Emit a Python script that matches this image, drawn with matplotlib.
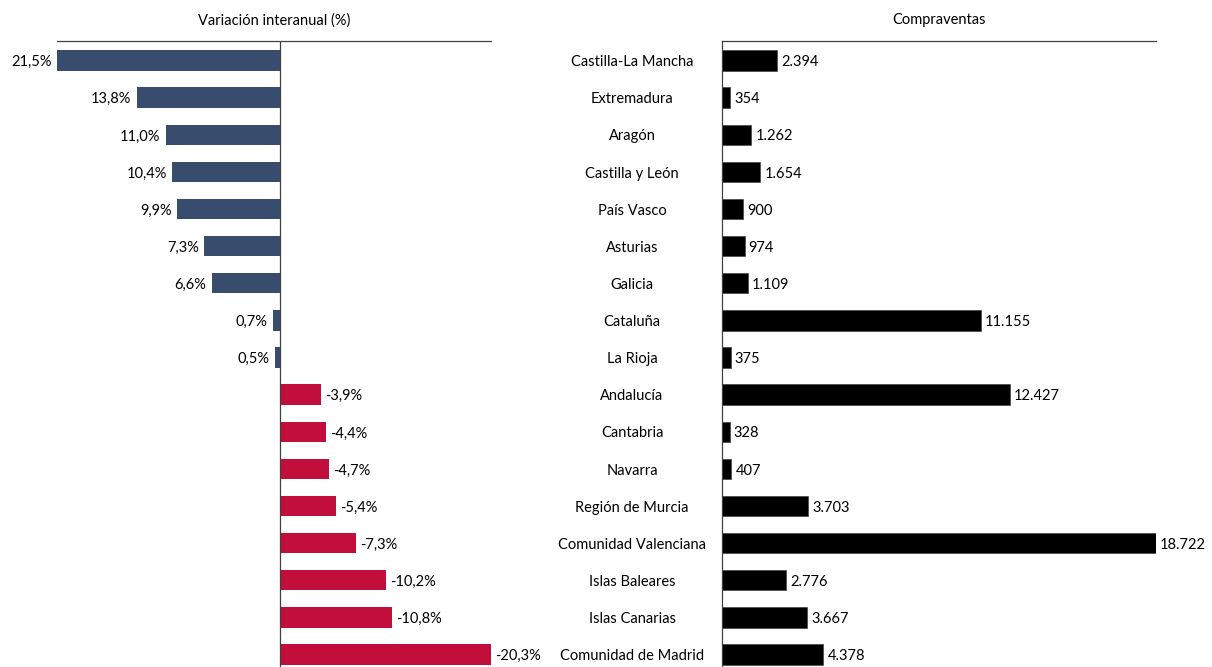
import matplotlib
matplotlib.use("Agg")
import matplotlib.pyplot as plt

regions = ["Castilla-La Mancha", "Extremadura", "Aragón", "Castilla y León", "País Vasco",
           "Asturias", "Galicia", "Cataluña", "La Rioja", "Andalucía", "Cantabria", "Navarra",
           "Región de Murcia", "Comunidad Valenciana", "Islas Baleares", "Islas Canarias",
           "Comunidad de Madrid"]
variacion = [21.5, 13.8, 11.0, 10.4, 9.9, 7.3, 6.6, 0.7, 0.5, -3.9, -4.4, -4.7, -5.4,
             -7.3, -10.2, -10.8, -20.3]
compraventas = [2394, 354, 1262, 1654, 900, 974, 1109, 11155, 375, 12427, 328, 407,
                3703, 18722, 2776, 3667, 4378]

plt.rcParams['font.family'] = ['Lato', 'DejaVu Sans']
FS = 10.5
W, H = 1212, 667
fig = plt.figure(figsize=(W / 100, H / 100), dpi=100)

BLUE = "#384d6d"
RED = "#c20e3b"
LINE = "#404040"
DY = -1.2  # small downward nudge for labels (points)

n = len(regions)
ypos = list(range(n))
step = (654 - 60) / (n - 1)
top_px = 41
bot_px = 654 + step * 0.5
y_top_val = -(60.5 - top_px) / step
y_bot_val = (n - 1) + (bot_px - 654.5) / step

def fig_axes(x0, x1):
    return fig.add_axes([x0 / W, 1 - bot_px / H, (x1 - x0) / W, (bot_px - top_px) / H])

def fmt_pct(v):
    return f"{v:.1f}%".replace(".", ",")

def fmt_int(v):
    return f"{v:,}".replace(",", ".")

# Left panel
ax1 = fig_axes(57, 491)
colors = [BLUE if v >= 0 else RED for v in variacion]
ax1.barh(ypos, variacion, height=0.55, color=colors)
ax1.set_xlim(max(variacion), min(variacion))
ax1.set_ylim(y_bot_val, y_top_val)
for s in ["left", "right", "bottom"]:
    ax1.spines[s].set_visible(False)
ax1.spines["top"].set_color(LINE)
ax1.spines["top"].set_linewidth(0.9)
ax1.axvline(0, color=LINE, lw=0.9)
ax1.set_xticks([])
ax1.set_yticks([])
for y, v in zip(ypos, variacion):
    if v >= 0:
        ax1.annotate(fmt_pct(v), (v, y), xytext=(-4, DY), textcoords="offset points",
                     ha="right", va="center", fontsize=FS)
    else:
        ax1.annotate(fmt_pct(v), (v, y), xytext=(3, DY), textcoords="offset points",
                     ha="left", va="center", fontsize=FS)
ax1.set_title("Variación interanual (%)", fontsize=FS, pad=12)

# Right panel
ax2 = fig_axes(722, 1156)
ax2.barh(ypos, compraventas, height=0.55, color="black", edgecolor="#444444", linewidth=0.5)
ax2.set_xlim(0, max(compraventas))
ax2.set_ylim(y_bot_val, y_top_val)
for s in ["right", "bottom"]:
    ax2.spines[s].set_visible(False)
ax2.spines["top"].set_color(LINE)
ax2.spines["left"].set_color(LINE)
ax2.spines["top"].set_linewidth(0.9)
ax2.spines["left"].set_linewidth(0.9)
ax2.set_xticks([])
ax2.set_yticks([])
for y, v in zip(ypos, compraventas):
    ax2.annotate(fmt_int(v), (v, y), xytext=(3, DY), textcoords="offset points",
                 ha="left", va="center", fontsize=FS)
    ax2.annotate(regions[y], (0, y), xycoords=("axes fraction", "data"),
                 xytext=(-(722 - 632) * 0.72, DY), textcoords="offset points",
                 ha="center", va="center", fontsize=FS)
ax2.set_title("Compraventas", fontsize=FS, pad=12)

fig.savefig("out.png", dpi=100)
